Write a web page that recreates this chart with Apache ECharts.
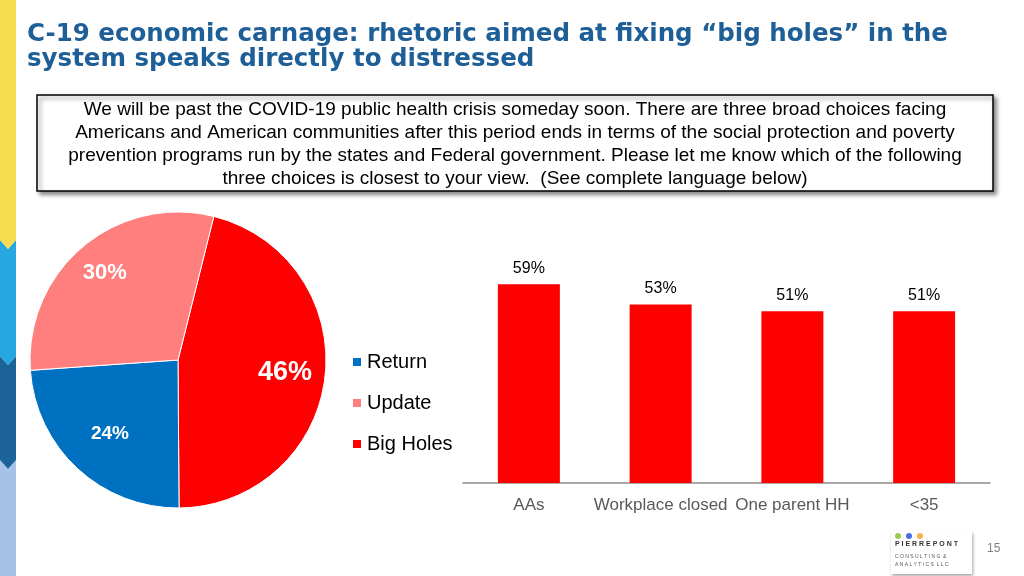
<!DOCTYPE html>
<html>
<head>
<meta charset="utf-8">
<script src="https://cdn.jsdelivr.net/npm/echarts@6/dist/echarts.min.js"></script>
<style>
  html, body { margin: 0; padding: 0; background: #fff; }
  #chart { width: 1024px; height: 576px; }
</style>
</head>
<body>
<div id="chart"></div>
<script>
// pie: share of respondents by choice
const pieNames = ['Big Holes', 'Return', 'Update']
const pieValues = [46, 24, 30]
const legendOrder = ['Return', 'Update', 'Big Holes']

// bars: "Big Holes" among subgroups
const barCategories = ['AAs', 'Workplace closed', 'One parent HH', '<35']
const barValues = [59, 53, 51, 51]

const titleLines = [
  'C-19 economic carnage: rhetoric aimed at fixing \u201cbig holes\u201d in the',
  'system speaks directly to distressed'
]
const questionLines = [
  'We will be past the COVID-19 public health crisis someday soon. There are three broad choices facing',
  'Americans and American communities after this period ends in terms of the social protection and poverty',
  'prevention programs run by the states and Federal government. Please let me know which of the following',
  'three choices is closest to your view.  (See complete language below)'
]

const pieColors = { 'Big Holes': '#ff0000', 'Return': '#0070c0', 'Update': '#ff7f7f' }
const pieLabelSize = { 'Big Holes': 27, 'Return': 19, 'Update': 22 }
const pieLabelPush = { 'Big Holes': 1.4, 'Return': 1.3, 'Update': 1.48 }
const pieCenter = [178, 360]

const chart = echarts.init(document.getElementById('chart'))

const sideStrip = [
  { color: '#f8dc4f', top: 0, bottom: 240 },
  { color: '#27a7df', top: 240, bottom: 356 },
  { color: '#1b6399', top: 356, bottom: 460 },
  { color: '#a8c2e7', top: 460, bottom: 576 }
].map((s, i) => {
  const w = 16
  const tip = 9
  const pts = [[0, s.top], [w / 2, s.top + (i ? tip : 0)], [w, s.top]]
  if (i === 3) {
    pts.push([w, s.bottom], [0, s.bottom])
  } else {
    pts.push([w, s.bottom], [w / 2, s.bottom + tip], [0, s.bottom])
  }
  return { type: 'polygon', z: 10 - i, shape: { points: pts }, style: { fill: s.color } }
})

const option = {
  backgroundColor: '#fff',
  textStyle: { fontFamily: 'Liberation Sans, Arial, sans-serif' },
  graphic: [
    ...sideStrip,
    ...titleLines.map((t, i) => ({
      type: 'text',
      left: 27,
      top: 22 + i * 25,
      style: {
        text: t,
        fill: '#1f5f98',
        font: 'bold 24.5px "DejaVu Sans", Verdana, sans-serif'
      }
    })),
    {
      type: 'rect',
      shape: { x: 37, y: 95, width: 956, height: 96 },
      style: {
        fill: '#fff',
        stroke: '#000',
        lineWidth: 1.5,
        shadowBlur: 4,
        shadowOffsetX: 3,
        shadowOffsetY: 3,
        shadowColor: 'rgba(0,0,0,0.45)'
      }
    },
    ...questionLines.map((t, i) => ({
      type: 'text',
      x: 515,
      y: 110 + i * 23,
      style: {
        text: t,
        fill: '#000',
        align: 'center',
        verticalAlign: 'middle',
        font: '19px "Liberation Sans", Arial, sans-serif'
      }
    })),
    // logo
    {
      type: 'rect',
      shape: { x: 891, y: 531, width: 81, height: 43 },
      style: {
        fill: '#fff',
        shadowBlur: 3,
        shadowOffsetX: 1,
        shadowOffsetY: 2,
        shadowColor: 'rgba(0,0,0,0.35)'
      }
    },
    { type: 'circle', shape: { cx: 898, cy: 536, r: 3 }, style: { fill: '#9ccc4a' } },
    { type: 'circle', shape: { cx: 909, cy: 536, r: 3 }, style: { fill: '#4a6ee0' } },
    { type: 'circle', shape: { cx: 920, cy: 536, r: 3 }, style: { fill: '#f4b04a' } },
    {
      type: 'text', x: 895, y: 541,
      style: { text: 'P I E R R E P O N T', fill: '#333', font: 'bold 7px "Liberation Sans", Arial, sans-serif' }
    },
    {
      type: 'text', x: 895, y: 554,
      style: { text: 'C O N S U L T I N G  &', fill: '#555', font: '5px "Liberation Sans", Arial, sans-serif' }
    },
    {
      type: 'text', x: 895, y: 562,
      style: { text: 'A N A L Y T I C S  L L C', fill: '#555', font: '5px "Liberation Sans", Arial, sans-serif' }
    },
    {
      type: 'text', x: 987, y: 543,
      style: { text: '15', fill: '#7f7f7f', font: '12px "Liberation Sans", Arial, sans-serif' }
    }
  ],
  legend: {
    data: legendOrder,
    orient: 'vertical',
    left: 346,
    top: 347,
    itemWidth: 10,
    itemHeight: 10,
    itemGap: 21,
    icon: 'rect',
    textStyle: { fontSize: 20, color: '#000', fontFamily: 'Liberation Sans, Arial, sans-serif' }
  },
  grid: { left: 463, right: 34, top: 146, bottom: 93 },
  xAxis: {
    type: 'category',
    data: barCategories,
    axisLine: { lineStyle: { color: '#8c8c8c', width: 1.5 } },
    axisTick: { length: 5, lineStyle: { color: '#8c8c8c' } },
    axisLabel: { color: '#595959', fontSize: 17, margin: 14, interval: 0 }
  },
  yAxis: { type: 'value', min: 0, max: 100, show: false },
  series: [
    {
      type: 'pie',
      center: pieCenter,
      radius: 148,
      startAngle: 76,
      clockwise: true,
      avoidLabelOverlap: false,
      data: pieNames.map((n, i) => ({
        name: n,
        value: pieValues[i],
        itemStyle: { color: pieColors[n] },
        label: { fontSize: pieLabelSize[n] }
      })),
      itemStyle: { borderColor: '#fff', borderWidth: 1 },
      label: {
        show: true,
        position: 'inside',
        formatter: '{c}%',
        color: '#fff',
        fontWeight: 'bold',
        fontFamily: 'Liberation Sans, Arial, sans-serif'
      },
      labelLine: { show: false },
      labelLayout(params) {
        const r = params.labelRect
        const lx = r.x + r.width / 2
        const ly = r.y + r.height / 2
        const k = pieLabelPush[pieNames[params.dataIndex]] - 1
        return { dx: (lx - pieCenter[0]) * k, dy: (ly - pieCenter[1]) * k }
      }
    },
    {
      type: 'bar',
      data: barValues,
      barWidth: 62,
      itemStyle: { color: '#ff0000' },
      label: {
        show: true,
        position: 'top',
        distance: 8,
        formatter: '{c}%',
        color: '#000',
        fontSize: 16
      }
    }
  ]
}

chart.setOption(option)
</script>
</body>
</html>
